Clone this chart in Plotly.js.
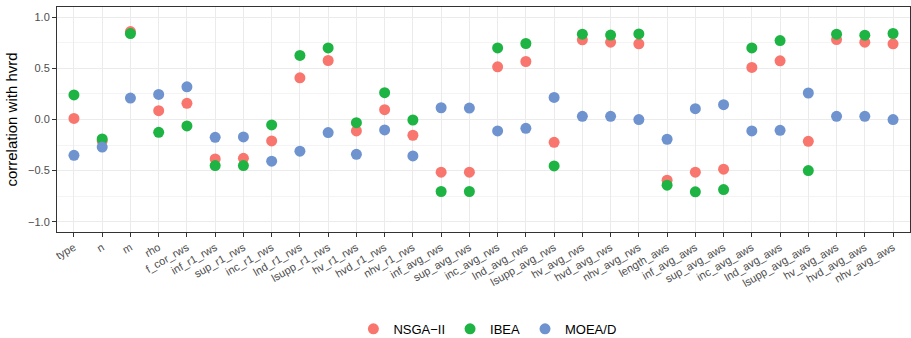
<!DOCTYPE html>
<html>
<head>
<meta charset="utf-8">
<script src="https://cdn.plot.ly/plotly-3.0.1.min.js"></script>
<style>html,body{margin:0;padding:0;background:#fff;}#chart{width:911px;height:338px;}</style>
</head>
<body>
<div id="chart"></div>
<script>
const categories = ["type","n","m","rho","f_cor_rws","inf_r1_rws","sup_r1_rws","inc_r1_rws","lnd_r1_rws","lsupp_r1_rws","hv_r1_rws","hvd_r1_rws","nhv_r1_rws","inf_avg_rws","sup_avg_rws","inc_avg_rws","lnd_avg_rws","lsupp_avg_rws","hv_avg_rws","hvd_avg_rws","nhv_avg_rws","length_aws","inf_avg_aws","sup_avg_aws","inc_avg_aws","lnd_avg_aws","lsupp_avg_aws","hv_avg_aws","hvd_avg_aws","nhv_avg_aws"];

const nsga2 = [0.01,-0.21,0.86,0.086,0.158,-0.385,-0.38,-0.21,0.408,0.577,-0.112,0.096,-0.154,-0.515,-0.515,0.515,0.567,-0.223,0.779,0.756,0.740,-0.593,-0.515,-0.486,0.509,0.574,-0.213,0.782,0.756,0.740];
const ibea = [0.24,-0.19,0.84,-0.125,-0.063,-0.45,-0.45,-0.053,0.626,0.70,-0.031,0.262,-0.005,-0.704,-0.704,0.70,0.743,-0.454,0.834,0.826,0.837,-0.642,-0.707,-0.685,0.70,0.772,-0.499,0.834,0.824,0.841];
const moead = [-0.35,-0.27,0.21,0.245,0.32,-0.174,-0.17,-0.408,-0.31,-0.128,-0.34,-0.102,-0.356,0.115,0.112,-0.112,-0.086,0.216,0.031,0.031,-0.001,-0.193,0.106,0.145,-0.112,-0.106,0.259,0.031,0.031,-0.001];

const seriesNames = ["NSGA\u2212II","IBEA","MOEA/D"];
const seriesColors = ["#F8766D","#1DB443","#6E93CF"];
const seriesValues = [nsga2, ibea, moead];

const traces = seriesValues.map((vals, i) => ({
  type: "scatter",
  mode: "markers",
  name: seriesNames[i],
  x: categories,
  y: vals,
  marker: {color: seriesColors[i], size: 11, line: {width: 0}},
  hoverinfo: "x+y+name"
}));

const font = "Liberation Sans, Arial, Helvetica, sans-serif";
const layout = {
  width: 911, height: 338,
  margin: {l: 57, r: 1, t: 7, b: 106},
  paper_bgcolor: "#fff", plot_bgcolor: "#fff",
  font: {family: font, color: "#4D4D4D"},
  showlegend: true,
  legend: {
    orientation: "h", xref: "container", yref: "container",
    x: 0.535, xanchor: "center", y: 0.027, yanchor: "middle",
    font: {family: font, size: 13, color: "#000"},
    itemwidth: 30, tracegroupgap: 0
  },
  xaxis: {
    type: "category",
    categoryorder: "array", categoryarray: categories,
    range: [-0.6, categories.length - 0.4],
    showgrid: true, gridcolor: "#EBEBEB", gridwidth: 1,
    showline: true, linecolor: "#333333", linewidth: 1, mirror: true,
    ticks: "outside", ticklen: 4, tickcolor: "#333333", tickwidth: 1,
    tickangle: -30,
    tickfont: {family: font, size: 11, color: "#4D4D4D"},
    zeroline: false, automargin: false
  },
  yaxis: {
    range: [-1.1, 1.1],
    tickvals: [-1, -0.5, 0, 0.5, 1],
    ticktext: ["\u22121.0", "\u22120.5", "0.0", "0.5", "1.0"],
    showgrid: true, gridcolor: "#EBEBEB", gridwidth: 1,
    minor: {tickvals: [-0.75, -0.25, 0.25, 0.75], showgrid: true, gridcolor: "#F4F4F4", gridwidth: 1, ticks: ""},
    showline: true, linecolor: "#333333", linewidth: 1, mirror: true,
    ticks: "outside", ticklen: 4, tickcolor: "#333333", tickwidth: 1,
    tickfont: {family: font, size: 11, color: "#4D4D4D"},
    zeroline: false, automargin: false,
    title: {text: "correlation with hvrd", font: {family: font, size: 15, color: "#000"}, standoff: 6}
  }
};

Plotly.newPlot("chart", traces, layout, {displayModeBar: false, staticPlot: true});
</script>
</body>
</html>
